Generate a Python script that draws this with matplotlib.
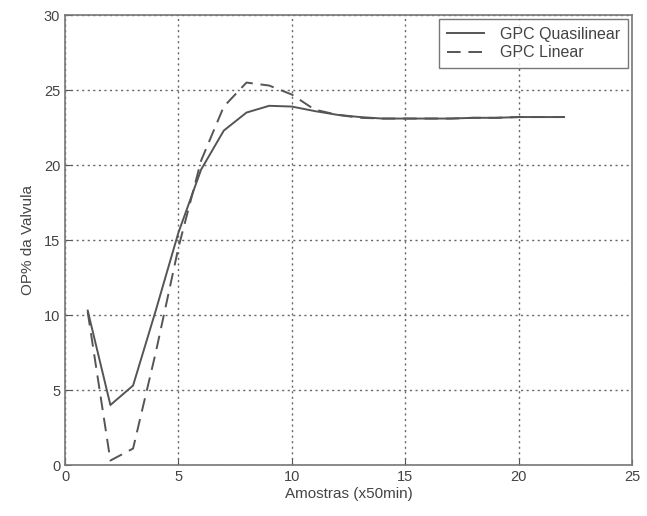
import matplotlib
matplotlib.use("Agg")
import matplotlib.pyplot as plt

samples = list(range(1, 23))
quasilinear = [10.3, 4.0, 5.3, 10.3, 15.5, 19.7, 22.3, 23.5, 23.95, 23.9, 23.6, 23.35,
               23.2, 23.1, 23.1, 23.1, 23.1, 23.15, 23.15, 23.2, 23.2, 23.2]
linear = [10.2, 0.3, 1.1, 7.5, 14.5, 20.3, 23.9, 25.5, 25.3, 24.7, 23.7, 23.35,
          23.15, 23.1, 23.1, 23.1, 23.1, 23.15, 23.15, 23.2, 23.2, 23.2]
xticks = [0, 5, 10, 15, 20, 25]
yticks = [0, 5, 10, 15, 20, 25, 30]

plt.rcParams['font.family'] = ['Liberation Sans', 'DejaVu Sans']
fig = plt.figure(figsize=(6.47, 5.16), dpi=100)
ax = fig.add_axes([0.1005, 0.0988, 0.8765, 0.872])
line_color = '#555555'
ax.plot(samples, quasilinear, color=line_color, lw=1.4, ls='-', label='GPC Quasilinear')
ax.plot(samples, linear, color=line_color, lw=1.4, ls=(0, (7, 4)), label='GPC Linear')
ax.set_xlim(0, 25)
ax.set_ylim(0, 30)
ax.set_xticks(xticks)
ax.set_yticks(yticks)
ax.grid(True, ls=(0, (1.5, 2.5)), color='#666666', lw=1.0)
for s in ax.spines.values():
    s.set_color('#777777')
    s.set_linewidth(1.2)
ax.tick_params(direction='in', labelsize=10.5, colors='#555555', labelcolor='#444444', length=4)
ax.set_xlabel('Amostras (x50min)', fontsize=11, color='#444444', labelpad=2)
ax.set_ylabel('OP% da Valvula', fontsize=11, color='#444444', labelpad=6)
leg = ax.legend(loc='upper right', fontsize=11.5, frameon=True, fancybox=False,
                edgecolor='#555555', handlelength=2.3, handletextpad=1.0,
                borderaxespad=0.25, labelcolor='#444444', borderpad=0.5,
                labelspacing=0.2)
leg.get_frame().set_linewidth(1.0)
fig.savefig('out.png', dpi=100, facecolor='white')
